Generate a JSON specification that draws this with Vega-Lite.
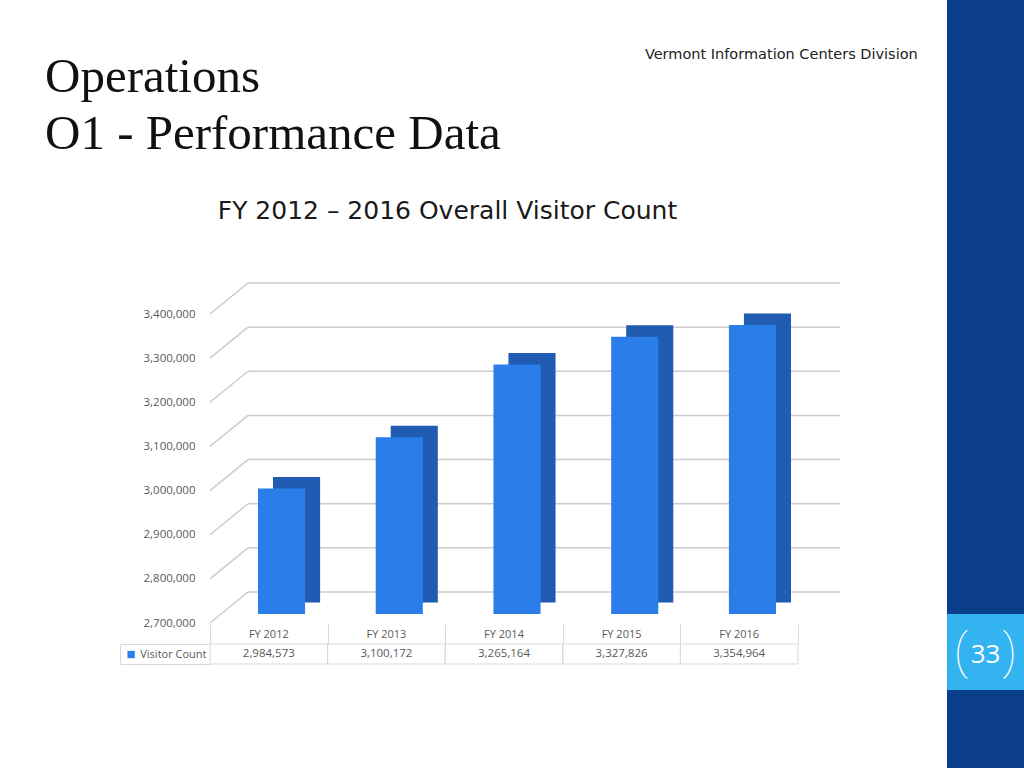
{
  "$schema": "https://vega.github.io/schema/vega-lite/v6.json",
  "background": "#ffffff",
  "padding": {"left": 45, "top": 0, "right": 0, "bottom": 0},
  "spacing": 0,
  "config": {
    "view": {"stroke": null},
    "font": "DejaVu Sans"
  },
  "datasets": {
    "visits": [
      {"year": "FY 2012", "count": 2984573},
      {"year": "FY 2013", "count": 3100172},
      {"year": "FY 2014", "count": 3265164},
      {"year": "FY 2015", "count": 3327826},
      {"year": "FY 2016", "count": 3354964}
    ],
    "grid": [
      {"v": 2700000}, {"v": 2800000}, {"v": 2900000}, {"v": 3000000},
      {"v": 3100000}, {"v": 3200000}, {"v": 3300000}, {"v": 3400000}
    ],
    "one": [{}]
  },
  "hconcat": [
    {
      "spacing": 0,
      "vconcat": [
        {
          "width": 737,
          "height": 46,
          "data": {"name": "one"},
          "mark": {"type": "rect", "opacity": 0}
        },
        {
          "bounds": "flush",
          "spacing": 10,
          "title": {
            "text": "Vermont Information Centers Division",
            "anchor": "end",
            "frame": "bounds",
            "dx": 77,
            "offset": -9,
            "font": "DejaVu Sans",
            "fontSize": 14.5,
            "fontWeight": "normal",
            "color": "#222222"
          },
          "vconcat": [
            {
              "width": 630,
              "height": 309,
              "title": {
                "text": ["Operations", "O1 - Performance Data"],
                "anchor": "start",
                "frame": "group",
                "dx": -165,
                "offset": 39,
                "font": "Liberation Serif",
                "fontSize": 49,
                "lineHeight": 57,
                "fontWeight": "normal",
                "color": "#111111"
              },
              "resolve": {"scale": {"x": "independent"}, "axis": {"x": "independent"}},
              "layer": [
                {
                  "data": {"name": "grid"},
                  "mark": {"type": "rule", "color": "#cccccc", "strokeWidth": 1.5, "yOffset": -22},
                  "encoding": {
                    "y": {
                      "field": "v", "type": "quantitative", "title": null,
                      "scale": {"domain": [2700000, 3400000], "nice": false, "zero": false},
                      "axis": {
                        "format": ",d", "tickCount": 7, "domain": false, "ticks": false, "grid": false,
                        "labelOffset": 9, "labelPadding": 15,
                        "labelFont": "Open Sans", "labelFontSize": 11.5, "labelColor": "#595959"
                      }
                    },
                    "x": {"datum": 0.0603, "type": "quantitative", "scale": {"domain": [0, 1]}, "axis": null},
                    "x2": {"datum": 1}
                  }
                },
                {
                  "data": {"name": "grid"},
                  "mark": {"type": "rule", "color": "#cccccc", "strokeWidth": 1.5, "yOffset": 9, "y2Offset": -22},
                  "encoding": {
                    "y": {
                      "field": "v", "type": "quantitative", "title": null,
                      "scale": {"domain": [2700000, 3400000], "nice": false, "zero": false},
                      "axis": {
                        "format": ",d", "tickCount": 7, "domain": false, "ticks": false, "grid": false,
                        "labelOffset": 9, "labelPadding": 15,
                        "labelFont": "Open Sans", "labelFontSize": 11.5, "labelColor": "#595959"
                      }
                    },
                    "y2": {"field": "v"},
                    "x": {"datum": 0, "type": "quantitative", "scale": {"domain": [0, 1]}, "axis": null},
                    "x2": {"datum": 0.0603}
                  }
                },
                {
                  "data": {"name": "visits"},
                  "mark": {"type": "bar", "color": "#1f5cb2", "xOffset": 15, "yOffset": -11.5, "y2Offset": -11.5},
                  "encoding": {
                    "x": {
                      "field": "year", "type": "nominal",
                      "scale": {"paddingInner": 0.6, "paddingOuter": 0.4757, "align": 0.4286},
                      "axis": {
                        "orient": "top", "labels": false, "ticks": false, "domain": false,
                        "title": "FY 2012 – 2016 Overall Visitor Count",
                        "titleFont": "DejaVu Sans", "titleFontSize": 25, "titleFontWeight": "normal",
                        "titleColor": "#1a1a1a", "titleX": 237, "titleY": -87,
                        "titleAlign": "center", "titleBaseline": "alphabetic"
                      }
                    },
                    "y": {
                      "field": "count", "type": "quantitative", "title": null,
                      "scale": {"domain": [2700000, 3400000], "nice": false, "zero": false},
                      "axis": {
                        "format": ",d", "tickCount": 7, "domain": false, "ticks": false, "grid": false,
                        "labelOffset": 9, "labelPadding": 15,
                        "labelFont": "Open Sans", "labelFontSize": 11.5, "labelColor": "#595959"
                      }
                    },
                    "y2": {"datum": 2700000}
                  }
                },
                {
                  "data": {"name": "visits"},
                  "mark": {"type": "bar", "color": "#2b7de9"},
                  "encoding": {
                    "x": {
                      "field": "year", "type": "nominal",
                      "scale": {"paddingInner": 0.6, "paddingOuter": 0.4757, "align": 0.4286},
                      "axis": null
                    },
                    "y": {
                      "field": "count", "type": "quantitative", "title": null,
                      "scale": {"domain": [2700000, 3400000], "nice": false, "zero": false},
                      "axis": {
                        "format": ",d", "tickCount": 7, "domain": false, "ticks": false, "grid": false,
                        "labelOffset": 9, "labelPadding": 15,
                        "labelFont": "Open Sans", "labelFontSize": 11.5, "labelColor": "#595959"
                      }
                    },
                    "y2": {"datum": 2700000}
                  }
                }
              ]
            },
            {
              "bounds": "flush",
              "spacing": 0,
              "vconcat": [
                {
                  "width": 588,
                  "height": 20,
                  "data": {"name": "visits"},
                  "mark": {"type": "text", "font": "Open Sans", "fontSize": 11, "color": "#595959", "baseline": "middle", "dy": 1},
                  "encoding": {
                    "x": {
                      "field": "year", "type": "nominal",
                      "scale": {"paddingInner": 0, "paddingOuter": 0},
                      "axis": {
                        "orient": "bottom", "title": null, "labels": false, "ticks": false, "domain": false,
                        "grid": true, "tickBand": "extent", "gridColor": "#d9d9d9", "gridWidth": 1
                      }
                    },
                    "text": {"field": "year"}
                  }
                },
                {
                  "width": 588,
                  "height": 20,
                  "resolve": {"axis": {"y": "independent"}},
                  "layer": [
                    {
                      "data": {"name": "visits"},
                      "mark": {"type": "rect", "fill": "transparent", "stroke": "#d9d9d9", "strokeWidth": 1},
                      "encoding": {
                        "x": {"field": "year", "type": "nominal",
                          "scale": {"paddingInner": 0, "paddingOuter": 0}, "axis": null},
                        "y": {
                          "datum": "Visitor Count", "type": "nominal",
                          "axis": {
                            "orient": "left", "title": null, "domain": false, "tickBand": "extent", "tickSize": 90,
                            "tickColor": "#d9d9d9", "tickWidth": 1, "labelPadding": -86,
                            "labelFont": "Open Sans", "labelFontSize": 11, "labelColor": "#595959"
                          }
                        }
                      }
                    },
                    {
                      "data": {"name": "visits"},
                      "mark": {"type": "text", "font": "Open Sans", "fontSize": 11.5, "color": "#595959", "baseline": "middle"},
                      "encoding": {
                        "x": {"field": "year", "type": "nominal", "axis": null},
                        "y": {
                          "datum": "Visitor Count", "type": "nominal",
                          "axis": {
                            "orient": "left", "title": null, "offset": 90, "domain": true, "domainColor": "#d9d9d9",
                            "ticks": false, "labelExpr": "'■'", "labelColor": "#2b7de9",
                            "labelAlign": "left", "labelPadding": -6, "labelFontSize": 9.5
                          }
                        },
                        "text": {"field": "count", "type": "quantitative", "format": ","}
                      }
                    }
                  ]
                }
              ]
            }
          ]
        }
      ]
    },
    {
      "spacing": 0,
      "vconcat": [
        {
          "width": 77,
          "height": 614,
          "data": {"name": "one"},
          "mark": {"type": "rect", "color": "#0b3e8b"}
        },
        {
          "width": 77,
          "height": 76,
          "data": {"name": "one"},
          "layer": [
            {"mark": {"type": "rect", "color": "#33b3f0"}},
            {"mark": {"type": "text", "text": "33", "font": "Open Sans", "fontSize": 26, "color": "#ffffff", "baseline": "middle", "dy": 3}},
            {"mark": {"type": "text", "text": "(\u00a0\u00a0\u00a0)", "font": "Roboto", "fontWeight": 100, "fontSize": 48, "color": "#ffffff", "baseline": "middle", "dy": 2}}
          ]
        },
        {
          "width": 77,
          "height": 78,
          "data": {"name": "one"},
          "mark": {"type": "rect", "color": "#0b3e8b"}
        }
      ]
    }
  ]
}
